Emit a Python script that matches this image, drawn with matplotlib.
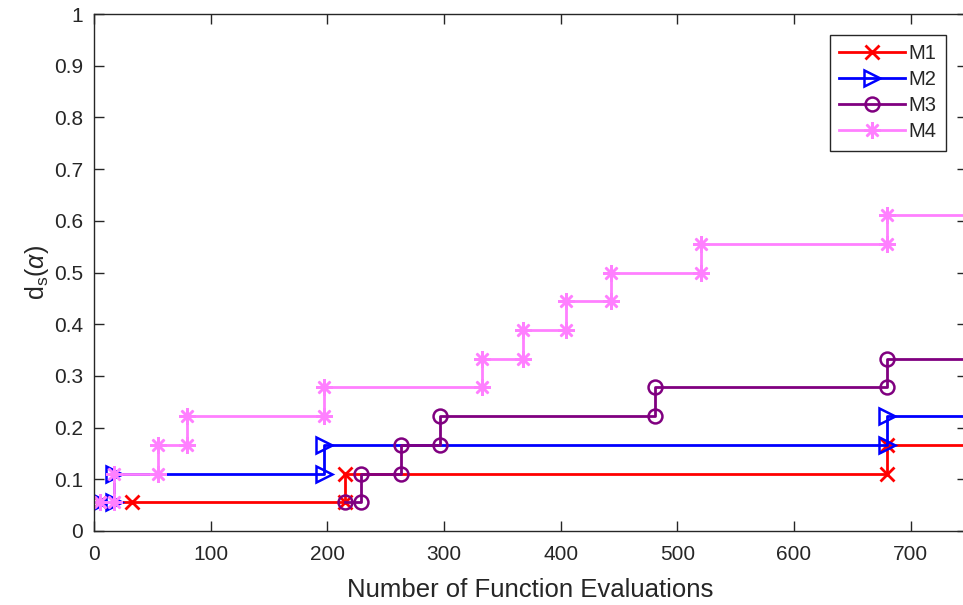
import matplotlib
matplotlib.use("Agg")
import matplotlib.pyplot as plt
from matplotlib.ticker import FixedLocator, FuncFormatter

plt.rcParams['font.family'] = ['Liberation Sans', 'DejaVu Sans']
plt.rcParams['mathtext.fontset'] = 'custom'
plt.rcParams['mathtext.rm'] = 'Liberation Sans'
plt.rcParams['mathtext.it'] = 'Liberation Sans:italic'

# Step vertices (function evaluations, fraction of problems solved) per method
m1_x = [5, 33, 215, 215, 680, 680, 800]
m1_y = [0.0556, 0.0556, 0.0556, 0.1111, 0.1111, 0.1667, 0.1667]

m2_x = [5, 17, 17, 197, 197, 680, 680, 800]
m2_y = [0.0556, 0.0556, 0.1111, 0.1111, 0.1667, 0.1667, 0.2222, 0.2222]

m3_x = [215, 229, 229, 263, 263, 297, 297, 481, 481, 680, 680, 800]
m3_y = [0.0556, 0.0556, 0.1111, 0.1111, 0.1667, 0.1667, 0.2222, 0.2222,
        0.2778, 0.2778, 0.3333, 0.3333]

m4_x = [5, 17, 17, 55, 55, 80, 80, 197, 197, 333, 333, 368, 368, 405, 405,
        443, 443, 520, 520, 680, 680, 800]
m4_y = [0.0556, 0.0556, 0.1111, 0.1111, 0.1667, 0.1667, 0.2222, 0.2222,
        0.2778, 0.2778, 0.3333, 0.3333, 0.3889, 0.3889, 0.4444, 0.4444,
        0.5, 0.5, 0.5556, 0.5556, 0.6111, 0.6111]

labels = ['M1', 'M2', 'M3', 'M4']
x_ticks = [0, 100, 200, 300, 400, 500, 600, 700]
y_ticks = [0, 0.1, 0.2, 0.3, 0.4, 0.5, 0.6, 0.7, 0.8, 0.9, 1]

W, H = 963, 605
fig = plt.figure(figsize=(W / 100, H / 100), dpi=100)
left, right, top, bottom = 94, 966.5, 14, 531
ax = fig.add_axes([left / W, (H - bottom) / H, (right - left) / W, (bottom - top) / H])

asterisk = (8, 2, 0)
ax.plot(m1_x, m1_y, color=(1, 0, 0), lw=2, marker='x', ms=10, mew=2, label=labels[0])
ax.plot(m2_x, m2_y, color=(0, 0, 1), lw=2, marker='>', ms=11, mew=1.8, mfc='none', label=labels[1])
ax.plot(m3_x, m3_y, color=(0.5, 0, 0.5), lw=2, marker='o', ms=10, mew=1.8, mfc='none', label=labels[2])
ax.plot(m4_x, m4_y, color=(1, 0.5, 1), lw=2, marker=asterisk, ms=12, mew=1.8, label=labels[3])

ax.set_xlim(0, 748)
ax.set_ylim(0, 1)
ax.xaxis.set_major_locator(FixedLocator(x_ticks))
ax.yaxis.set_major_locator(FixedLocator(y_ticks))
ax.yaxis.set_major_formatter(FuncFormatter(lambda v, p: f"{v:g}"))

axis_color = '#262626'
for s in ax.spines.values():
    s.set_color(axis_color)
    s.set_linewidth(1.0)
ax.tick_params(direction='in', length=7, width=1, color=axis_color,
               labelcolor=axis_color, labelsize=15, top=True, right=True)
ax.tick_params(axis='x', pad=10)
ax.tick_params(axis='y', pad=8)

ax.set_xlabel('Number of Function Evaluations', fontsize=18.5, color=axis_color, labelpad=10)
ax.set_ylabel(r'd$_\mathrm{s}$($\alpha$)', fontsize=18, color=axis_color, labelpad=2)

leg = ax.legend(loc='upper right', bbox_to_anchor=(0.976, 0.96), fontsize=14.5,
                handlelength=3.3, labelspacing=0.36, borderpad=0.45,
                handletextpad=0.15, borderaxespad=0, fancybox=False,
                framealpha=1, edgecolor='#262626')
leg.get_frame().set_linewidth(1.0)
for t in leg.get_texts():
    t.set_color(axis_color)

fig.savefig('out.png', dpi=100)
